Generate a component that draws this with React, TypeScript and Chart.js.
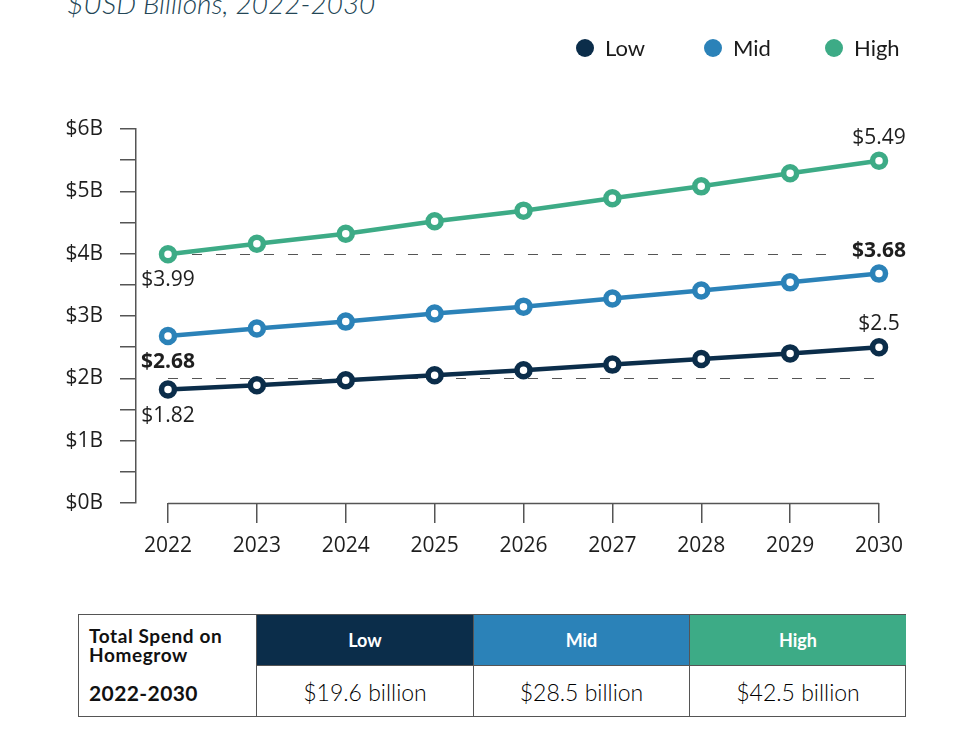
import React, { useEffect, useRef } from "react";
import { Chart, registerables } from "chart.js";

Chart.register(...registerables);

const years = ["2022", "2023", "2024", "2025", "2026", "2027", "2028", "2029", "2030"];
const lowValues = [1.82, 1.89, 1.97, 2.05, 2.13, 2.22, 2.31, 2.4, 2.5];
const midValues = [2.68, 2.8, 2.91, 3.04, 3.15, 3.28, 3.41, 3.54, 3.68];
const highValues = [3.99, 4.16, 4.32, 4.52, 4.69, 4.89, 5.08, 5.29, 5.49];
const seriesNames = ["Low", "Mid", "High"];
const seriesColors = ["#0b2d4a", "#2b82b8", "#3dab86"];
const boldLabelSeries = ["Mid"];
const referenceLines = [4, 2];
const yTickValues = [0, 0.5, 1, 1.5, 2, 2.5, 3, 3.5, 4, 4.5, 5, 5.5, 6];
const tableHeading = ["Total Spend on", "Homegrow"];
const tablePeriod = "2022-2030";
const totals = ["$19.6 billion", "$28.5 billion", "$42.5 billion"];
const titleText = "$USD Billions, 2022-2030";

const seriesValues = [lowValues, midValues, highValues];

const FONT_NUM = "'Open Sans', 'DejaVu Sans', sans-serif";
const FONT_UI = "Lato, 'Open Sans', sans-serif";

const labelPlugin = {
  id: "customDecor",
  beforeDatasetsDraw(chart: any) {
    const { ctx, chartArea, scales } = chart;
    const x = scales.x;
    const y = scales.y;
    const x0 = x.getPixelForValue(0);
    const x1 = x.getPixelForValue(years.length - 1);
    ctx.save();
    ctx.strokeStyle = "#555";
    ctx.lineWidth = 1.5;
    ctx.beginPath();
    ctx.moveTo(x0, chartArea.bottom + 0.5);
    ctx.lineTo(x1, chartArea.bottom + 0.5);
    ctx.stroke();
    ctx.setLineDash([10, 14]);
    ctx.strokeStyle = "#555";
    ctx.lineWidth = 1;
    referenceLines.forEach((v) => {
      const py = Math.round(y.getPixelForValue(v)) + 0.5;
      ctx.beginPath();
      ctx.moveTo(x0, py);
      ctx.lineTo(x1, py);
      ctx.stroke();
    });
    ctx.restore();
  },
  afterDatasetsDraw(chart: any) {
    const { ctx, scales } = chart;
    const x = scales.x;
    const y = scales.y;
    const last = years.length - 1;
    ctx.save();
    ctx.textAlign = "center";
    ctx.textBaseline = "middle";
    seriesValues.forEach((vals, i) => {
      const bold = boldLabelSeries.includes(seriesNames[i]);
      ctx.font = `${bold ? "bold " : ""}21px ${FONT_NUM}`;
      const items = [
        { v: vals[0], px: x.getPixelForValue(0), dy: 25, pad: 2 },
        { v: vals[last], px: x.getPixelForValue(last), dy: -24, pad: 12 },
      ];
      items.forEach((it) => {
        const text = `$${it.v}`;
        const py = y.getPixelForValue(it.v) + it.dy;
        const w = ctx.measureText(text).width;
        ctx.fillStyle = "#ffffff";
        ctx.fillRect(it.px - w / 2 - it.pad, py - 11, w + it.pad * 2, 22);
        ctx.fillStyle = "#1e1e1e";
        ctx.fillText(text, it.px, py + 1);
      });
    });
    ctx.restore();
  },
};

export default function App() {
  const canvasRef = useRef<HTMLCanvasElement | null>(null);

  useEffect(() => {
    document.body.style.margin = "0";
    const canvas = canvasRef.current;
    if (!canvas) return;
    const chart = new Chart(canvas, {
      type: "line",
      data: {
        labels: years,
        datasets: seriesNames.map((name, i) => ({
          label: name,
          data: seriesValues[i].map((v, j) => ({ x: j, y: v })),
          borderColor: seriesColors[i],
          backgroundColor: seriesColors[i],
          borderWidth: 4.5,
          pointRadius: 6.5,
          pointHoverRadius: 6.5,
          pointBorderWidth: 5.5,
          pointBackgroundColor: "#ffffff",
          pointBorderColor: seriesColors[i],
          tension: 0,
          fill: false,
        })),
      },
      options: {
        responsive: false,
        animation: false,
        devicePixelRatio: 1,
        layout: { padding: { top: 129, left: 0, right: 49, bottom: 0 } },
        plugins: {
          legend: { display: false },
          tooltip: { enabled: false },
          title: { display: false },
        },
        scales: {
          x: {
            type: "linear",
            min: -0.36,
            max: years.length - 1 + 0.36,
            afterBuildTicks: (scale: any) => {
              scale.ticks = years.map((_, i) => ({ value: i }));
            },
            afterFit: (scale: any) => {
              scale.height = 77;
            },
            border: { display: false },
            grid: {
              display: true,
              drawOnChartArea: false,
              drawTicks: true,
              tickLength: 20,
              color: "#555",
              lineWidth: 1.5,
            },
            ticks: {
              autoSkip: false,
              maxRotation: 0,
              padding: 10,
              color: "#1e1e1e",
              font: { family: FONT_NUM, size: 21 },
              callback: (v: any) => years[Math.round(Number(v))] ?? "",
            },
          },
          y: {
            type: "linear",
            min: 0,
            max: 6,
            afterBuildTicks: (scale: any) => {
              scale.ticks = yTickValues.map((v) => ({ value: v }));
            },
            afterFit: (scale: any) => {
              scale.width = 136;
            },
            border: { display: true, color: "#555", width: 1.5 },
            grid: {
              display: true,
              drawOnChartArea: false,
              drawTicks: true,
              tickLength: 16,
              color: "#555",
              lineWidth: 1.5,
            },
            ticks: {
              autoSkip: false,
              padding: 17,
              color: "#1e1e1e",
              font: { family: FONT_NUM, size: 21 },
              callback: (v: any) => (Number.isInteger(Number(v)) ? `$${v}B` : ""),
            },
          },
        },
      },
      plugins: [labelPlugin],
    } as any);
    return () => chart.destroy();
  }, []);

  const legendX = [585, 713, 834];
  const colLefts = [78, 257, 474, 690, 906];
  const cell = (left: number, top: number, w: number, h: number, extra: any) => ({
    position: "absolute" as const,
    left,
    top,
    width: w,
    height: h,
    boxSizing: "border-box" as const,
    ...extra,
  });

  return (
    <div style={{ position: "absolute", left: 0, top: 0, width: 960, height: 750, background: "#fff", overflow: "hidden" }}>
      <div
        style={{
          position: "absolute",
          left: 67,
          top: -11,
          fontFamily: FONT_UI,
          fontStyle: "italic",
          fontWeight: 300,
          fontSize: 28,
          lineHeight: "28px",
          color: "#234656",
          whiteSpace: "nowrap",
        }}
      >
        {titleText}
      </div>
      <canvas ref={canvasRef} width={960} height={580} style={{ position: "absolute", left: 0, top: 0, width: 960, height: 580 }} />
      {seriesNames.map((name, i) => (
        <div key={name}>
          <div
            style={{
              position: "absolute",
              left: legendX[i] - 9,
              top: 48 - 9,
              width: 18,
              height: 18,
              borderRadius: 9,
              background: seriesColors[i],
            }}
          />
          <div
            style={{
              position: "absolute",
              left: legendX[i] + 20,
              top: 34,
              fontFamily: FONT_UI,
              fontSize: 22,
              lineHeight: "28px",
              color: "#1a1a1a",
              whiteSpace: "nowrap",
            }}
          >
            {name}
          </div>
        </div>
      ))}
      <div style={cell(78, 614, 828, 103, { border: "1.5px solid #555" })} />
      <div
        style={cell(78, 614, 179, 103, {
          borderRight: "1.5px solid #555",
          fontFamily: FONT_UI,
          fontWeight: 700,
          fontSize: 19,
          color: "#111",
        })}
      >
        <div style={{ position: "absolute", left: 11, top: 12, lineHeight: "19px", letterSpacing: 0.6 }}>
          {tableHeading.map((t) => (
            <div key={t}>{t}</div>
          ))}
        </div>
        <div style={{ position: "absolute", left: 11, top: 67, fontSize: 21, lineHeight: "24px", letterSpacing: 0.4 }}>{tablePeriod}</div>
      </div>
      {seriesNames.map((name, i) => (
        <div key={"h" + name}>
          <div
            style={cell(colLefts[i + 1], 614, colLefts[i + 2] - colLefts[i + 1], 51, {
              background: seriesColors[i],
              color: "#fff",
              fontFamily: FONT_UI,
              fontWeight: 700,
              fontSize: 18,
              display: "flex",
              alignItems: "center",
              justifyContent: "center",
              borderRight: i < 2 ? "1.5px solid #555" : "none",
              borderTop: "1.5px solid #555",
            })}
          >
            {name}
          </div>
          <div
            style={cell(colLefts[i + 1], 665, colLefts[i + 2] - colLefts[i + 1], 52, {
              color: "#000",
              fontFamily: FONT_UI,
              fontWeight: 300,
              fontSize: 23,
              display: "flex",
              alignItems: "center",
              justifyContent: "center",
              borderRight: i < 2 ? "1.5px solid #555" : "none",
              borderTop: "1.5px solid #555",
            })}
          >
            {totals[i]}
          </div>
        </div>
      ))}
    </div>
  );
}
